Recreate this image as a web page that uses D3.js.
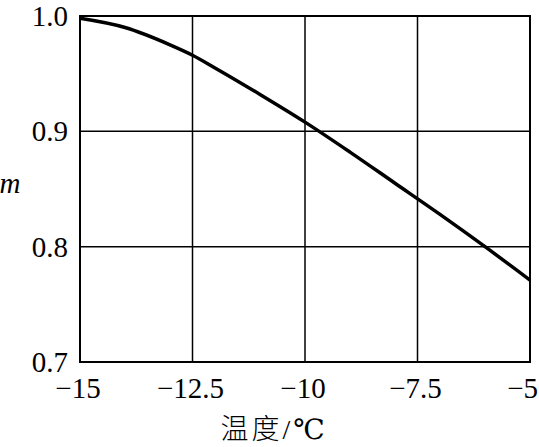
<!DOCTYPE html>
<html>
<head>
<meta charset="utf-8">
<script src="https://cdn.jsdelivr.net/npm/d3@7"></script>
<style>
  body { margin: 0; background: #fff; }
</style>
</head>
<body>
<script>
// curve
const temps = [-15, -14, -13, -12.5, -12, -11, -10, -9, -8, -7, -6, -5];
const mVals = [0.998, 0.990, 0.975, 0.966, 0.955, 0.932, 0.908, 0.882, 0.855, 0.828, 0.800, 0.771];

const xTicks = [-15, -12.5, -10, -7.5, -5];
const yTicks = [0.7, 0.8, 0.9, 1.0];

const w = 539, h = 447;
const pl = 80, pr = 530, pt = 16, pb = 362;
const serif = "'Liberation Serif', 'Times New Roman', Times, 'DejaVu Serif', serif";

const svg = d3.select("body").append("svg")
  .attr("width", w)
  .attr("height", h);

const x = d3.scaleLinear().domain([-15, -5]).range([pl, pr]);
const y = d3.scaleLinear().domain([0.7, 1.0]).range([pb, pt]);

const fmtX = d => (d < 0 ? "\u2212" : "") + Math.abs(d);

// grid
svg.append("g")
  .selectAll("line")
  .data(xTicks)
  .enter().append("line")
  .attr("x1", d => x(d)).attr("x2", d => x(d))
  .attr("y1", pt).attr("y2", pb)
  .attr("stroke", "#000")
  .attr("stroke-width", 1.5);

svg.append("g")
  .selectAll("line")
  .data(yTicks)
  .enter().append("line")
  .attr("x1", pl).attr("x2", pr)
  .attr("y1", d => y(d)).attr("y2", d => y(d))
  .attr("stroke", "#000")
  .attr("stroke-width", 1.5);

// frame
svg.append("rect")
  .attr("x", pl).attr("y", pt)
  .attr("width", pr - pl).attr("height", pb - pt)
  .attr("fill", "none")
  .attr("stroke", "#000")
  .attr("stroke-width", 2);

// tick labels
svg.append("g")
  .selectAll("text")
  .data(yTicks)
  .enter().append("text")
  .attr("x", pl - 12)
  .attr("y", d => y(d) + 10)
  .attr("text-anchor", "end")
  .attr("font-family", serif)
  .attr("font-size", 29)
  .text(d => d.toFixed(1));

// last label sits against the right edge, as in the original
svg.append("g")
  .selectAll("text")
  .data(xTicks)
  .enter().append("text")
  .attr("x", (d, i) => i === xTicks.length - 1 ? w - 1 : x(d) - 2)
  .attr("y", 398)
  .attr("text-anchor", (d, i) => i === xTicks.length - 1 ? "end" : "middle")
  .attr("font-family", serif)
  .attr("font-size", 29)
  .text(fmtX);

// axis titles
const xt = svg.append("text")
  .attr("x", 274)
  .attr("y", 439)
  .attr("text-anchor", "middle")
  .attr("font-size", 28)
  .attr("letter-spacing", 3);
xt.append("tspan")
  .attr("font-family", "'Noto Sans CJK SC', sans-serif")
  .attr("font-weight", 300)
  .text("温度");
xt.append("tspan")
  .attr("font-family", serif)
  .text("/\u2103");

svg.append("text")
  .attr("x", 10)
  .attr("y", 193)
  .attr("text-anchor", "middle")
  .attr("font-family", serif)
  .attr("font-size", 29)
  .attr("font-style", "italic")
  .text("m");

// curve
const line = d3.line()
  .x((d, i) => x(temps[i]))
  .y(d => y(d))
  .curve(d3.curveMonotoneX);

svg.append("path")
  .datum(mVals)
  .attr("d", line)
  .attr("fill", "none")
  .attr("stroke", "#000")
  .attr("stroke-width", 3.5);
</script>
</body>
</html>
